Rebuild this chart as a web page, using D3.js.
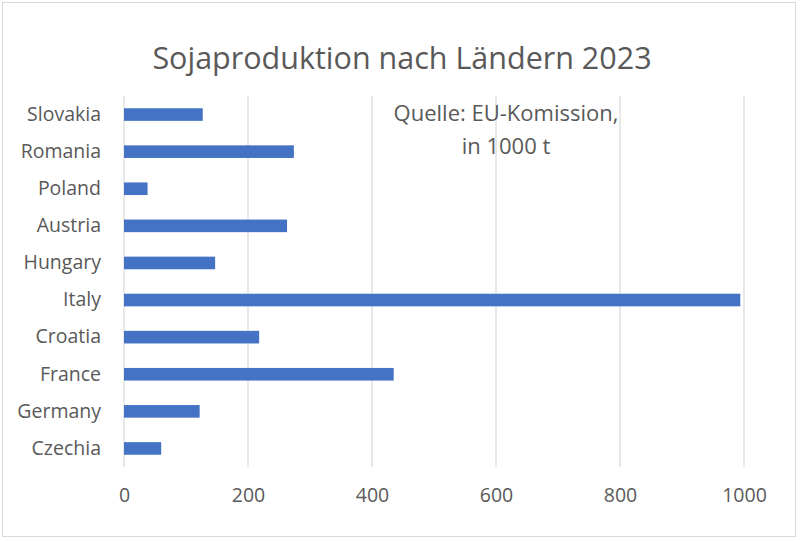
<!DOCTYPE html>
<head>
  <meta charset="utf-8">
  <script src="https://d3js.org/d3.v7.min.js"></script>
  <style>
    body { margin: 0; background: #fff; }
    text { font-family: "Open Sans", "Noto Sans", sans-serif; fill: #595959; }
  </style>
</head>

<body>
  <div id="chart"></div>
</body>

<script>

// data, top to bottom as in the chart
var countries = ["Slovakia", "Romania", "Poland", "Austria", "Hungary",
                 "Italy", "Croatia", "France", "Germany", "Czechia"];
var production = [127, 274, 38, 263, 147, 994, 218, 435, 122, 60];
var xTicks = [0, 200, 400, 600, 800, 1000];

var W = 800, H = 541;
var margin = {top: 96, right: 56, bottom: 74, left: 124},
    width = W - margin.left - margin.right,
    height = H - margin.top - margin.bottom;

var root = d3.select("#chart")
  .append("svg")
    .attr("width", W)
    .attr("height", H);

// chart frame
root.append("rect")
  .attr("x", 2.5).attr("y", 2.5)
  .attr("width", 793).attr("height", 534)
  .attr("fill", "#fff")
  .attr("stroke", "#d9d9d9");

root.append("text")
  .attr("x", 402).attr("y", 69)
  .attr("text-anchor", "middle")
  .style("font-size", "30.5px")
  .text("Sojaproduktion nach Ländern 2023");

var svg = root.append("g")
  .attr("transform", "translate(" + margin.left + "," + margin.top + ")");

var x = d3.scaleLinear()
  .domain([0, 1000])
  .range([0, width]);

var y = d3.scaleBand()
  .domain(countries)
  .range([0, height])
  .paddingInner(0.66)
  .paddingOuter(0.33);

// gridlines
svg.append("g")
  .selectAll("line")
  .data(xTicks)
  .enter()
  .append("line")
    .attr("x1", function(d) { return x(d); })
    .attr("x2", function(d) { return x(d); })
    .attr("y1", 0)
    .attr("y2", height)
    .attr("stroke", "#d9d9d9")
    .attr("stroke-width", 1.2);

// X axis labels
var xAxis = svg.append("g")
  .attr("transform", "translate(0," + height + ")")
  .call(d3.axisBottom(x).tickValues(xTicks).tickFormat(d3.format("d"))
          .tickSize(0).tickPadding(21));
xAxis.select(".domain").remove();
xAxis.selectAll("text")
  .style("font-size", "19.5px")
  .attr("fill", "#595959");

// Y axis labels
var yAxis = svg.append("g")
  .call(d3.axisLeft(y).tickSize(0).tickPadding(23));
yAxis.select(".domain").remove();
yAxis.selectAll("text")
  .style("font-size", "19.5px")
  .attr("fill", "#595959");

// bars
svg.append("g")
  .selectAll("rect")
  .data(countries)
  .enter()
  .append("rect")
    .attr("x", x(0))
    .attr("y", function(d) { return y(d); })
    .attr("width", function(d, i) { return x(production[i]) - x(0); })
    .attr("height", y.bandwidth())
    .attr("fill", "#4472c4");

// source note
var note = root.append("text")
  .attr("x", 506).attr("y", 121)
  .attr("text-anchor", "middle")
  .style("font-size", "22px");
note.append("tspan").attr("x", 506).text("Quelle: EU-Komission,");
note.append("tspan").attr("x", 506).attr("dy", 33).text("in 1000 t");

</script>
